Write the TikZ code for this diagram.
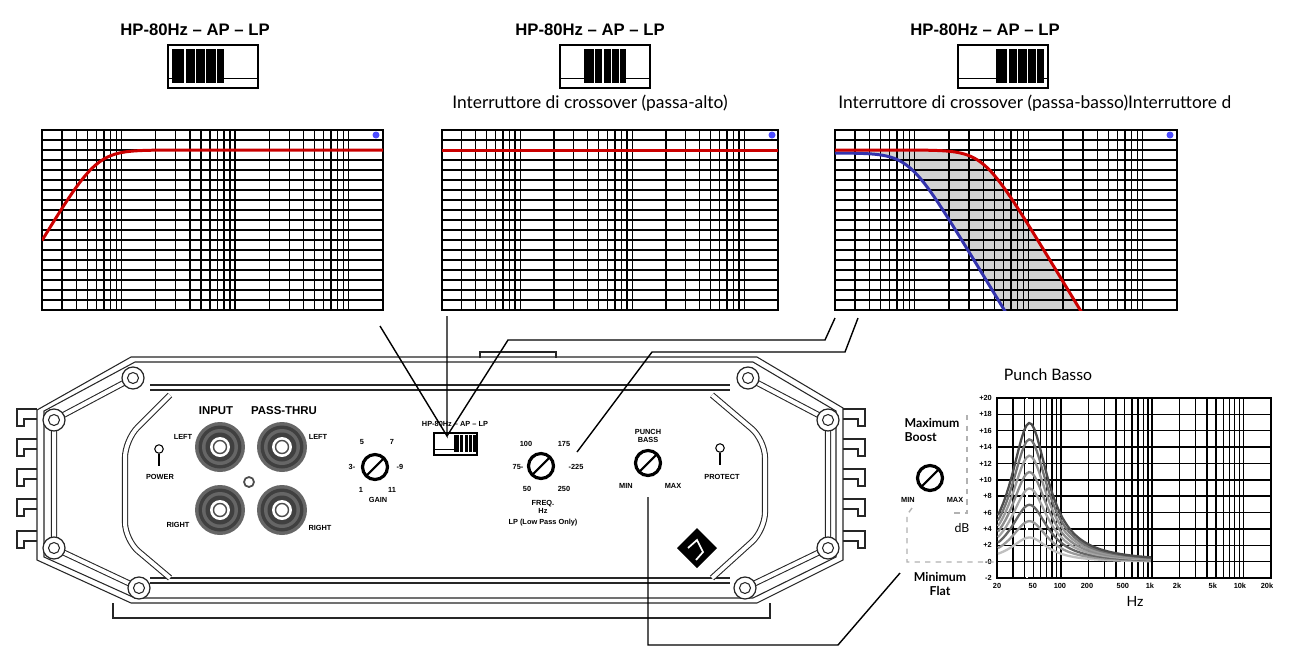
\documentclass[tikz,border=0pt]{standalone}
\usepackage{fontspec}
\setmainfont{Lato}
\setsansfont{Liberation Sans}
\usetikzlibrary{positioning}

\tikzset{
  grid line/.style={black, line width=0.8pt},
  resp/.style={line width=1.7pt},
  body/.style={line width=0.6pt, black!85},
  arm/.style={double=white, double distance=0.08cm, line width=0.6pt, black!85},
  bolt/.style={circle, draw=black!85, fill=white, line width=0.7pt, minimum size=0.44cm, inner sep=0pt},
  knob/.style={circle, draw, fill=white, line width=1.8pt, minimum size=0.5cm, inner sep=0pt,
    path picture={\draw[line width=1.2pt] (path picture bounding box.south west) -- (path picture bounding box.north east);}},
  led/.style={circle, draw, line width=0.6pt, minimum size=0.17cm, inner sep=0pt},
  tiny/.style={font=\sffamily\bfseries\fontsize{4.2}{5}\selectfont, inner sep=0.5pt},
  small/.style={font=\sffamily\bfseries\fontsize{6.5}{7}\selectfont, inner sep=0.5pt},
  swlabel/.style={font=\sffamily\bfseries\fontsize{9.5}{11}\selectfont},
  caption/.style={font=\fontsize{9.9}{11}\selectfont, anchor=west, inner sep=0pt},
  wire/.style={line width=0.8pt, black},
}

% log grid: x0, y0, width, height, rows
\newcommand\loggrid[5]{%
  \foreach \r in {1,...,#5}{\draw[grid line] (#1,{#2+\r*#4/#5}) -- ++(#3,0);}
  \foreach \d in {1,2,3,4}{\foreach \m in {1,...,9}{%
    \pgfmathsetmacro\u{log10(\m)+\d-log10(20)}%
    \pgfmathtruncatemacro\ok{(\u>0.01)&&(\u<2.99)}%
    \ifnum\ok=1 \draw[grid line] ({#1+#3*\u/3},#2) -- ++(0,#4);\fi}}
  \draw[line width=1.1pt] (#1,#2) rectangle ++(#3,#4);
}
% switch icon: x0, y0, width, height, slider offset, slider width
\newcommand\swicon[6]{%
  \draw[line width=1pt] (#1,#2) rectangle ++(#3,#4);
  \draw[line width=0.6pt] (#1,{#2+0.77*#4}) -- ++(#3,0);
  \fill (#1+#5,{#2+0.1*#4}) rectangle ++(#6,{0.78*#4});
  \foreach \s in {0.25,0.45,0.65,0.85}{\draw[white, line width=0.7pt] ({#1+#5+\s*#6},{#2+0.1*#4}) -- ++(0,{0.78*#4});}
}

\begin{document}
\begin{tikzpicture}[x=0.02cm, y=-0.02cm]
\useasboundingbox[fill=white] (0,0) rectangle (1296,657);

% switch positions
\node[swlabel] (lab1) at (195,30) {HP-80Hz -- AP -- LP};
\node[swlabel] (lab2) at (590,30) {HP-80Hz -- AP -- LP};
\node[swlabel] (lab3) at (985,30) {HP-80Hz -- AP -- LP};
\swicon{168}{45}{90}{43}{4}{52}
\swicon{560}{45}{90}{43}{24}{42}
\swicon{958}{45}{90}{43}{38}{48}
\node[caption] (cap2) at (452,103) {Interruttore di crossover (passa-alto)};
\node[caption] (cap3) at (838,103) {Interruttore di crossover (passa-basso)Interruttore d};

% response graphs
\loggrid{42}{130}{341}{180}{18}
\loggrid{442}{130}{336}{180}{18}
\loggrid{835}{130}{342}{180}{18}
\foreach \gx in {376,772,1170}{\fill[blue!70] (\gx,135) circle[radius=0.07cm];}
\begin{scope}
  \clip (42,130) rectangle (383,310);
  \draw[resp, red!80!black] plot[domain=0:3, samples=90] ({42+113.7*\x},{150+47*log10(1+pow(10,4*(0.48-\x)))});
\end{scope}
\draw[resp, red!80!black] (442,150) -- (778,150);
\begin{scope}
  \clip (835,130) rectangle (1177,310);
  \fill[gray!35] plot[domain=0:2.3, samples=80] ({835+114*\x},{150+47*log10(1+pow(10,4*(\x-1.3)))})
    -- plot[domain=1.6:0, samples=80] ({835+114*\x},{153+47*log10(1+pow(10,4*(\x-0.65)))}) -- cycle;
  \loggrid{835}{130}{342}{180}{18}
  \draw[resp, blue!60!black!80] plot[domain=0:1.6, samples=80] ({835+114*\x},{153+47*log10(1+pow(10,4*(\x-0.65)))});
  \draw[resp, red!80!black] plot[domain=0:2.3, samples=80] ({835+114*\x},{150+47*log10(1+pow(10,4*(\x-1.3)))});
\end{scope}

% amplifier body
\draw[body] (131,357) -- (757,357) -- (843,408) -- (843,560) -- (757,603) -- (131,603) -- (37,560) -- (37,410) -- cycle;
\draw[body] (135,362) -- (753,362) -- (836,411) -- (836,557) -- (753,598) -- (135,598) -- (44,557) -- (44,411) -- cycle;
\draw[body] (113,603) -- (113,618) -- (770,618) -- (770,603);
\draw[body] (480,358) -- (480,352) -- (556,352) -- (556,358);
\draw[body] (150,385) -- (730,385) (150,390) -- (730,390);
\draw[body] (150,578) -- (730,578) (150,583) -- (730,583);
\foreach \y in {418,448,478,508,540}{
  \draw[body] (37,\y-9) -- (17,\y-9) -- (17,\y+8) -- (24,\y+8) -- (24,\y+1) -- (37,\y+1);
  \draw[body] (843,\y-9) -- (865,\y-9) -- (865,\y+8) -- (858,\y+8) -- (858,\y+1) -- (843,\y+1);
}
\draw[arm] (133,378) -- (54,420) -- (54,548) -- (139,588);
\draw[arm] (748,378) -- (828,420) -- (828,548) -- (745,588);
\draw[arm, rounded corners=10pt] (170,395) -- (125,440) -- (125,540) -- (170,578);
\draw[arm, rounded corners=10pt] (712,395) -- (765,440) -- (765,530) -- (712,578);
\foreach \b/\bx/\by in {tl/133/378, l1/54/420, l2/54/548, bl/139/588, tr/748/378, r1/828/420, r2/828/548, br/745/588}{
  \node[bolt] (bolt\b) at (\bx,\by) {};
  \draw[body] (bolt\b) circle[radius=0.11cm];
}

% panel controls
\node[led] (power) at (159,449) {};
\draw[line width=1pt] (power.south) -- ++(0,12);
\node[tiny] (powerlab) at (160,477) {POWER};
\node[small] (input) at (216,411) {INPUT};
\node[small] (thru) at (284,411) {PASS-THRU};
\foreach \j/\jx/\jy in {il/220/447, tl/282/447, ir/220/510, tr/282/510}{
  \foreach \rr/\cc in {0.5/60, 0.43/75, 0.36/60, 0.29/75}{\fill[black!\cc] (\jx,\jy) circle[radius=\rr cm];}
  \fill[white] (\jx,\jy) circle[radius=0.2cm];
  \draw[black!70, line width=0.8pt] (\jx,\jy) circle[radius=0.13cm];
  \coordinate (jack\j) at (\jx,\jy);
}
\draw[black!70, line width=1pt] (249,482) circle[radius=0.1cm];
\node[tiny] at (183,437) {LEFT};
\node[tiny] at (318,437) {LEFT};
\node[tiny] at (178,525) {RIGHT};
\node[tiny] at (320,528) {RIGHT};

\node[knob] (gain) at (375,467) {};
\node[tiny] at (362,442) {5};
\node[tiny] at (392,442) {7};
\node[tiny] at (352,467) {3-};
\node[tiny] at (400,467) {-9};
\node[tiny] at (361,490) {1};
\node[tiny] at (392,490) {11};
\node[tiny] (gainlab) at (378,500) {GAIN};

\node[tiny] (swlab) at (455,424) {HP-80Hz -- AP -- LP};
\swicon{434}{433}{43}{22}{20}{22}
\coordinate (sw) at (447,436);

\node[knob] (freq) at (541,466) {};
\node[tiny] at (526,444) {100};
\node[tiny] at (564,444) {175};
\node[tiny] at (518,467) {75-};
\node[tiny] at (576,467) {-225};
\node[tiny] at (527,489) {50};
\node[tiny] at (564,489) {250};
\node[tiny, align=center] (freqlab) at (543,507) {FREQ.\\Hz};
\node[tiny] (lplab) at (543,523) {LP (Low Pass Only)};

\node[tiny, align=center] (punchlab) at (648,436) {PUNCH\\BASS};
\node[knob] (punch) at (648,463) {};
\node[tiny] at (626,486) {MIN};
\node[tiny] at (673,486) {MAX};
\node[led] (protect) at (720,448) {};
\draw[line width=1pt] (protect.south) -- ++(0,12);
\node[tiny] (protlab) at (722,477) {PROTECT};
\fill[black] (697,528) -- (717,548) -- (697,568) -- (677,548) -- cycle;
\draw[white, line width=1pt] (688,548) -- (697,540) -- (703,552) -- (696,560);

% connectors
\coordinate (g1) at (380,326);
\coordinate (g2) at (447,316);
\coordinate (k1) at (508,340);
\coordinate (k2) at (825,340);
\coordinate (g3a) at (835,318);
\coordinate (f1) at (577,452);
\coordinate (f2) at (652,352);
\coordinate (f3) at (845,352);
\coordinate (g3b) at (858,318);
\coordinate (p1) at (648,497);
\coordinate (p2) at (648,645);
\coordinate (p3) at (838,645);
\coordinate (mf) at (900,573);
\draw[wire] (g1) -- (sw) -- (g2);
\draw[wire] (sw) -- (k1) -- (k2) -- (g3a);
\draw[wire] (f1) -- (f2) -- (f3) -- (g3b);
\draw[wire] (p1) -- (p2) -- (p3) -- (mf);

% punch bass graph
\node[font=\fontsize{9}{10}\selectfont] (ptitle) at (1048,375) {Punch Basso};
\loggrid{997}{398}{274}{180}{11}
\foreach \t [count=\i from 0] in {+20,+18,+16,+14,+12,+10,+8,+6,+4,+2,-0,-2}{
  \node[tiny, anchor=east] at (993,{398+\i*180/11}) {\t};
}
\foreach \t/\u in {20/0,50/0.398,100/0.699,200/1,500/1.398,1k/1.699,2k/2,5k/2.398,10k/2.699,20k/3}{
  \node[tiny] at ({997+90*\u},586) {\t};
}
\node[font=\fontsize{8}{9}\selectfont] (hz) at (1135,601) {Hz};
\node[font=\fontsize{7}{8}\selectfont] (db) at (962,528) {dB};
\draw[white, dashed, line width=1.2pt] (1027,398) -- (1027,578);
\foreach \A/\c in {3/25,5/40,7/60,9/35,11/45,13/40,15/55,17/70}{
  \draw[black!\c, line width=1.3pt] plot[domain=0:1.7, samples=60] ({998+90*\x},{562-8.18*\A/(1+((\x-0.35)/0.25)^2)});
}
\node[font=\bfseries\fontsize{7}{8}\selectfont, align=left] (maxb) at (932,430) {Maximum\\Boost};
\node[knob] (pknob) at (930,478) {};
\node[tiny] at (908,500) {MIN};
\node[tiny] at (955,500) {MAX};
\node[font=\bfseries\fontsize{7}{8}\selectfont, align=center] (minf) at (940,584) {Minimum\\Flat};
\draw[gray!60, dashed, line width=0.8pt] (967,415) -- (967,513) -- (950,513);
\draw[gray!60, dashed, line width=0.8pt] (912,508) -- (907,515) -- (907,562) -- (995,562);
\end{tikzpicture}
\end{document}
